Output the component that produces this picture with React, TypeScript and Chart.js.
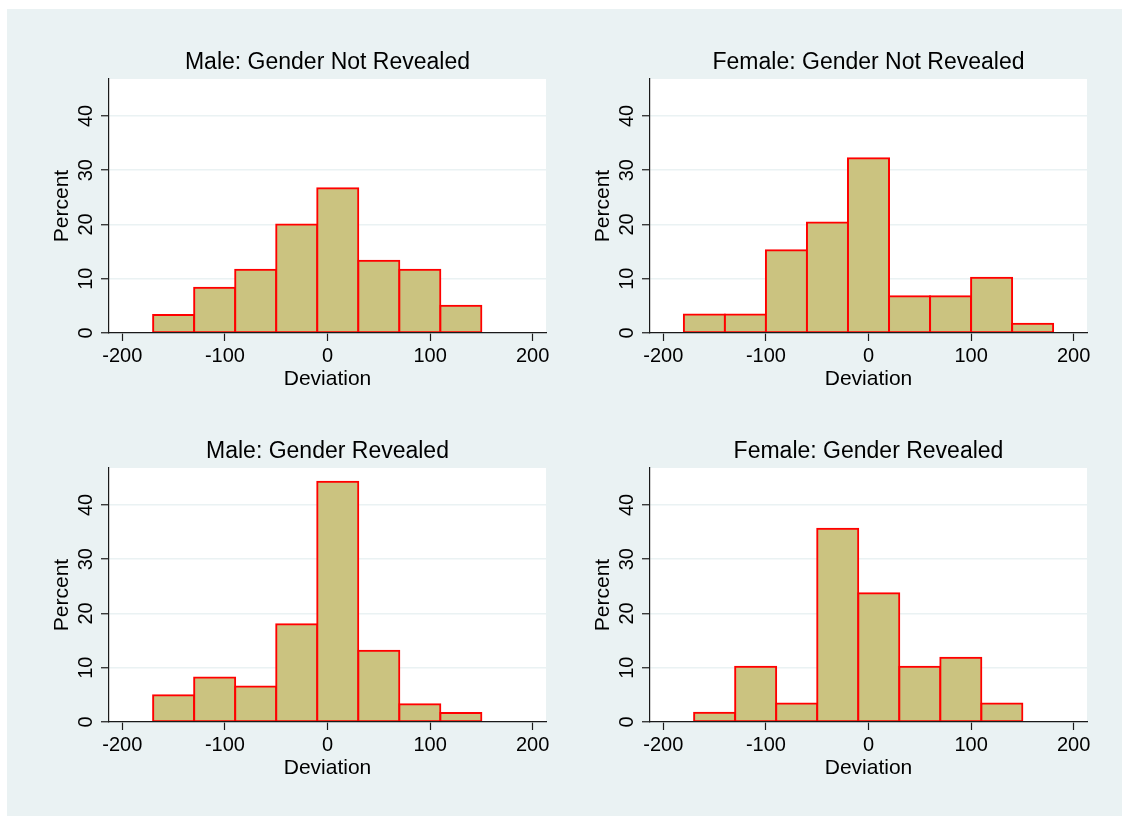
import React, { useEffect, useRef } from "react";
import { Chart, registerables } from "chart.js";

Chart.register(...registerables);

// Histogram bin midpoints (bins are 40 wide)
const binsFromMinus170 = [-150, -110, -70, -30, 10, 50, 90, 130];
const binsFromMinus180 = [-160, -120, -80, -40, 0, 40, 80, 120, 160];

// Percent of observations in each bin
const maleNotRevealed = [3.33, 8.33, 11.67, 20.0, 26.67, 13.33, 11.67, 5.0];
const femaleNotRevealed = [3.39, 3.39, 15.25, 20.34, 32.2, 6.78, 6.78, 10.17, 1.69];
const maleRevealed = [4.92, 8.2, 6.56, 18.03, 44.26, 13.11, 3.28, 1.64];
const femaleRevealed = [1.69, 10.17, 3.39, 35.59, 23.73, 10.17, 11.86, 3.39];

const xTicks = [-200, -100, 0, 100, 200];
const yTicks = [0, 10, 20, 30, 40];

const panelTitles = [
  "Male: Gender Not Revealed",
  "Female: Gender Not Revealed",
  "Male: Gender Revealed",
  "Female: Gender Revealed",
];

const FONT = "'Liberation Sans', Arial, Helvetica, sans-serif";
const PAGE_BG = "#eaf2f3";
const BAR_FILL = "#cbc380";
const BAR_LINE = "#ff0000";
const AXIS = "#1a1a1a";

const CANVAS_W = 554;
const CANVAS_H = 390;
const COL_STEP = 541;
const ROW_STEP = 389;

type PanelSpec = {
  title: string;
  bins: number[];
  values: number[];
  col: number;
  row: number;
};

const panels: PanelSpec[] = [
  { title: panelTitles[0], bins: binsFromMinus170, values: maleNotRevealed, col: 0, row: 0 },
  { title: panelTitles[1], bins: binsFromMinus180, values: femaleNotRevealed, col: 1, row: 0 },
  { title: panelTitles[2], bins: binsFromMinus170, values: maleRevealed, col: 0, row: 1 },
  { title: panelTitles[3], bins: binsFromMinus170, values: femaleRevealed, col: 1, row: 1 },
];

// White plot region behind the bars
const plotBackground = {
  id: "plotBackground",
  beforeDraw(chart: any) {
    const { ctx, chartArea } = chart;
    ctx.save();
    ctx.fillStyle = "#ffffff";
    ctx.fillRect(chartArea.left, chartArea.top, chartArea.right - chartArea.left, chartArea.bottom - chartArea.top);
    ctx.restore();
  },
};

// Vertical y tick labels, read bottom-to-top
const verticalYLabels = {
  id: "verticalYLabels",
  afterDraw(chart: any) {
    const { ctx, chartArea } = chart;
    const yScale = chart.scales.y;
    ctx.save();
    ctx.font = `20px ${FONT}`;
    ctx.fillStyle = "#000000";
    ctx.textAlign = "center";
    ctx.textBaseline = "alphabetic";
    yScale.ticks.forEach((t: any) => {
      const py = yScale.getPixelForValue(t.value);
      ctx.save();
      ctx.translate(chartArea.left - 17, py);
      ctx.rotate(-Math.PI / 2);
      ctx.fillText(String(t.value), 0, 0);
      ctx.restore();
    });
    ctx.restore();
  },
};

function HistogramPanel({ spec }: { spec: PanelSpec }) {
  const ref = useRef<HTMLCanvasElement | null>(null);

  useEffect(() => {
    if (!ref.current) return;
    const chart = new Chart(ref.current, {
      type: "bar",
      data: {
        datasets: [
          {
            data: spec.bins.map((x, i) => ({ x, y: spec.values[i] })),
            backgroundColor: BAR_FILL,
            borderColor: BAR_LINE,
            borderWidth: 2,
            borderSkipped: false,
            inflateAmount: 1,
            barPercentage: 1,
            categoryPercentage: 1,
          },
        ],
      },
      options: {
        animation: false,
        responsive: false,
        devicePixelRatio: 1,
        layout: { padding: { left: 0, top: 0, right: 15, bottom: 0 } },
        plugins: {
          legend: { display: false },
          tooltip: { enabled: false },
          title: {
            display: true,
            text: spec.title,
            fullSize: false,
            color: "#000000",
            font: { family: FONT, size: 23, weight: "normal" },
            padding: { top: 39.9, bottom: 2.5 },
          },
        },
        scales: {
          x: {
            type: "linear",
            min: -213,
            max: 213,
            offset: false,
            afterBuildTicks: (s: any) => {
              s.ticks = xTicks.map((v) => ({ value: v }));
            },
            afterFit: (s: any) => {
              s.height = 66;
            },
            ticks: {
              color: "#000000",
              padding: 3,
              maxRotation: 0,
              font: { family: FONT, size: 20 },
            },
            grid: {
              display: true,
              offset: false,
              drawOnChartArea: false,
              drawTicks: true,
              tickLength: 8,
              tickColor: AXIS,
              tickWidth: 1.2,
            },
            border: { display: true, color: AXIS, width: 1.2, z: 1 },
            title: {
              display: true,
              text: "Deviation",
              color: "#000000",
              font: { family: FONT, size: 21 },
              padding: { top: 0, bottom: 7 },
            },
          },
          y: {
            type: "linear",
            min: 0,
            max: 46.8,
            afterBuildTicks: (s: any) => {
              s.ticks = yTicks.map((v) => ({ value: v }));
            },
            afterFit: (s: any) => {
              s.width = 102;
            },
            ticks: { display: false },
            grid: {
              display: true,
              drawOnChartArea: true,
              drawTicks: true,
              tickLength: 8,
              color: PAGE_BG,
              lineWidth: 1.5,
              tickColor: AXIS,
              tickWidth: 1.2,
            },
            border: { display: true, color: AXIS, width: 1.2, z: 1 },
            title: {
              display: true,
              text: "Percent",
              color: "#000000",
              font: { family: FONT, size: 21 },
              padding: { top: 42.4, bottom: 0 },
            },
          },
        },
      },
      plugins: [plotBackground, verticalYLabels],
    } as any);
    return () => chart.destroy();
  }, [spec]);

  return (
    <canvas
      ref={ref}
      width={CANVAS_W}
      height={CANVAS_H}
      style={{
        position: "absolute",
        left: 7 + spec.col * COL_STEP,
        top: 9 + spec.row * ROW_STEP,
        width: CANVAS_W,
        height: CANVAS_H,
      }}
    />
  );
}

export default function App() {
  return (
    <div
      style={{
        position: "absolute",
        left: 0,
        top: 0,
        width: 1122,
        height: 816,
        background: "#ffffff",
        overflow: "hidden",
      }}
    >
      <div
        style={{
          position: "absolute",
          left: 7,
          top: 9,
          width: 1115,
          height: 807,
          background: PAGE_BG,
        }}
      />
      {panels.map((p) => (
        <HistogramPanel key={p.title} spec={p} />
      ))}
    </div>
  );
}
